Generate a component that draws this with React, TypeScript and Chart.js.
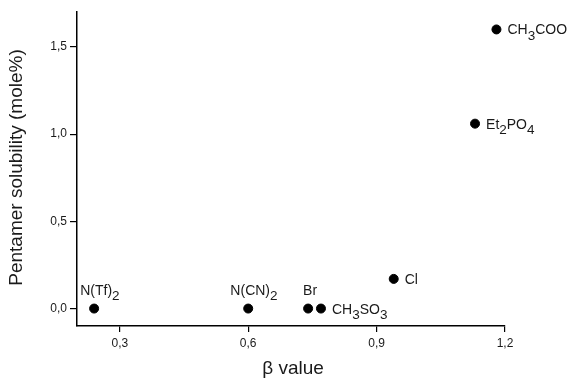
import React, { useEffect, useRef } from 'react';
import { Chart, registerables } from 'chart.js';

Chart.register(...registerables);

// Data (underscore marks a one-character subscript)
const anions = ['N(Tf)_2', 'N(CN)_2', 'Br', 'CH_3SO_3', 'Cl', 'Et_2PO_4', 'CH_3COO'];
const betaValues = [0.24, 0.6, 0.74, 0.77, 0.94, 1.13, 1.18];
const solubility = [0.0, 0.0, 0.0, 0.0, 0.17, 1.06, 1.6];
const labelAnchors = ['above', 'above', 'above', 'right', 'right', 'right', 'right'];
const xTickValues = [0.3, 0.6, 0.9, 1.2];
const yTickValues = [0.0, 0.5, 1.0, 1.5];
const xTitle = 'β value';
const yTitle = 'Pentamer solubility (mole%)';

const FONT = '"Liberation Sans", Arial, sans-serif';
const TEXT = '#1a1a1a';

type Seg = { t: string; sub: boolean };
function parseLabel(s: string): Seg[] {
  const segs: Seg[] = [];
  let cur = '';
  for (let i = 0; i < s.length; i++) {
    if (s[i] === '_' && i + 1 < s.length) {
      if (cur) segs.push({ t: cur, sub: false });
      cur = '';
      segs.push({ t: s[i + 1], sub: true });
      i++;
    } else cur += s[i];
  }
  if (cur) segs.push({ t: cur, sub: false });
  return segs;
}

const pointLabelPlugin = {
  id: 'pointLabels',
  afterDatasetsDraw(chart: any) {
    const ctx = chart.ctx;
    const meta = chart.getDatasetMeta(0);
    const mainFont = `14px ${FONT}`;
    const subFont = `13.5px ${FONT}`;
    ctx.save();
    ctx.fillStyle = TEXT;
    ctx.textBaseline = 'alphabetic';
    ctx.textAlign = 'left';
    meta.data.forEach((el: any, i: number) => {
      const segs = parseLabel(anions[i]);
      ctx.font = mainFont;
      const firstW = ctx.measureText(segs[0].t).width;
      let x: number, y: number;
      if (labelAnchors[i] === 'above') {
        x = el.x - firstW / 2 + 2;
        y = el.y - 14;
      } else {
        x = el.x + 11;
        y = el.y + 5;
      }
      segs.forEach((s) => {
        ctx.font = s.sub ? subFont : mainFont;
        ctx.fillText(s.t, x, s.sub ? y + 5.5 : y);
        x += ctx.measureText(s.t).width;
      });
    });
    ctx.restore();
  },
};

const axisTitlePlugin = {
  id: 'axisTitles',
  afterDraw(chart: any) {
    const ctx = chart.ctx;
    const area = chart.chartArea;
    ctx.save();
    ctx.fillStyle = TEXT;
    ctx.textAlign = 'center';
    ctx.textBaseline = 'middle';
    ctx.font = `19px ${FONT}`;
    ctx.fillText(xTitle, (area.left + area.right) / 2 + 2, area.bottom + 43);
    ctx.translate(17, area.top + 155.5);
    ctx.rotate(-Math.PI / 2);
    ctx.fillText(yTitle, 0, 0);
    ctx.restore();
  },
};

const fmt = (v: number) => v.toFixed(1).replace('.', ',');

export default function App() {
  const ref = useRef<HTMLCanvasElement>(null);

  useEffect(() => {
    document.body.style.margin = '0';
    const canvas = ref.current;
    if (!canvas) return;
    const chart = new Chart(canvas, {
      type: 'scatter',
      data: {
        datasets: [
          {
            data: betaValues.map((x, i) => ({ x, y: solubility[i] })),
            backgroundColor: '#000',
            borderColor: '#000',
            pointRadius: 4.5,
            pointHoverRadius: 4.5,
          },
        ],
      },
      options: {
        animation: false,
        responsive: true,
        maintainAspectRatio: false,
        layout: { padding: { top: 12, right: 64, left: 0, bottom: 0 } },
        plugins: {
          legend: { display: false },
          tooltip: { enabled: false },
        },
        scales: {
          x: {
            type: 'linear',
            min: 0.2,
            max: 1.2,
            afterBuildTicks: (s: any) => {
              s.ticks = xTickValues.map((v) => ({ value: v }));
            },
            afterFit: (s: any) => {
              s.height = 53;
            },
            grid: { drawOnChartArea: false, drawTicks: true, tickLength: 6, color: '#000', lineWidth: 1.2 },
            border: { display: true, color: '#000', width: 1.5 },
            ticks: {
              padding: 4,
              color: TEXT,
              font: { family: FONT, size: 12 },
              callback: (v: any) => fmt(Number(v)),
            },
          },
          y: {
            type: 'linear',
            min: -0.1,
            max: 1.7,
            afterBuildTicks: (s: any) => {
              s.ticks = yTickValues.map((v) => ({ value: v }));
            },
            afterFit: (s: any) => {
              s.width = 77;
            },
            grid: { drawOnChartArea: false, drawTicks: true, tickLength: 7, color: '#000', lineWidth: 1.2 },
            border: { display: true, color: '#000', width: 1.5 },
            ticks: {
              padding: 3,
              color: TEXT,
              font: { family: FONT, size: 12 },
              callback: (v: any) => fmt(Number(v)),
            },
          },
        },
      },
      plugins: [pointLabelPlugin, axisTitlePlugin],
    });
    return () => chart.destroy();
  }, []);

  return (
    <div style={{ position: 'relative', width: 569, height: 379 }}>
      <canvas ref={ref} />
    </div>
  );
}
